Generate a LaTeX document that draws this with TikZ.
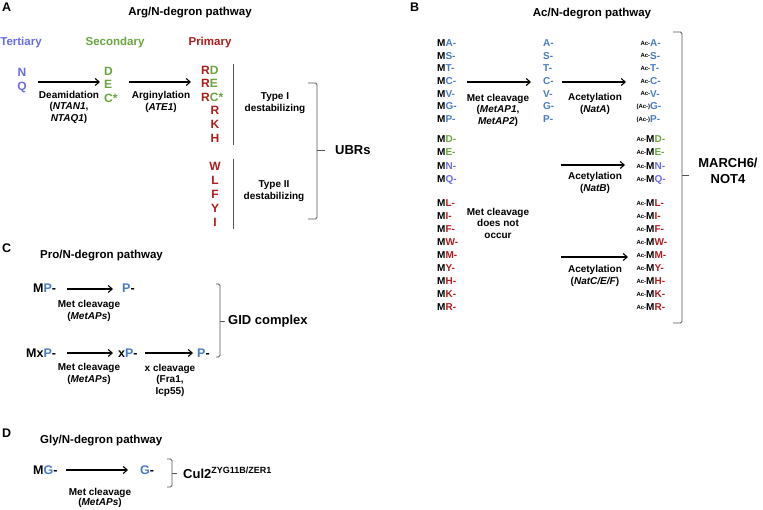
\documentclass[tikz,border=0pt]{standalone}
\usepackage{fontspec}
\setmainfont{Liberation Sans}
\usetikzlibrary{arrows.meta}
\definecolor{tert}{HTML}{6B6BE6}
\definecolor{secc}{HTML}{6AA53E}
\definecolor{prim}{HTML}{B01C1C}
\definecolor{blu}{HTML}{4A7CC4}
\definecolor{brkc}{HTML}{555555}
\newcommand{\acp}{\llap{\raisebox{1.5pt}{\fontsize{6}{6}\selectfont Ac-}}}
\newcommand{\acq}{\llap{\raisebox{1.5pt}{\fontsize{6}{6}\selectfont (Ac-)}}}
\begin{document}
\begin{tikzpicture}[x=1pt,y=-1pt,
  every node/.style={inner sep=0pt},
  lbl/.style={font=\fontsize{10}{11.5}\selectfont\bfseries, align=center},
  ttl/.style={font=\fontsize{11.5}{13}\selectfont\bfseries},
  panel/.style={font=\fontsize{12.5}{13}\selectfont\bfseries, anchor=west},
  big/.style={font=\fontsize{12}{12}\selectfont\bfseries, text height=8.6pt, text depth=0pt},
  resB/.style={font=\fontsize{10}{10}\selectfont\bfseries, text height=7.2pt, text depth=0pt, anchor=west},
  resC/.style={font=\fontsize{12.5}{12.5}\selectfont\bfseries, text height=9pt, text depth=0pt, anchor=west},
  tgt/.style={font=\fontsize{13}{16}\selectfont\bfseries, align=center},
  arr/.style={-{Straight Barb[length=4pt,width=7pt]}, line width=1.1pt},
  brk/.style={draw=brkc, line width=0.8pt, rounded corners=1.5pt},
  vline/.style={draw=brkc, line width=0.9pt}]
\useasboundingbox (0,0) rectangle (763,510);
\fill[white] (0,0) rectangle (763,510);

% ---------------- Panel A ----------------
\node[panel] (labA) at (2,7) {A};
\node[ttl] (ttlA) at (190,13) {Arg/N-degron pathway};
\node[ttl,text=tert] (tertL) at (21,43) {Tertiary};
\node[ttl,text=secc] (secL) at (115,43) {Secondary};
\node[ttl,text=prim] (primL) at (210,43) {Primary};
\node[big,text=tert] (aN) at (22,72) {N};
\node[big,text=tert] (aQ) at (22,86) {Q};
\node[big,text=secc,anchor=west] (aD) at (104,71) {D};
\node[big,text=secc,anchor=west] (aE) at (104,84) {E};
\node[big,text=secc,anchor=west] (aC) at (104,98) {C*};
\node[big,anchor=west] (p1) at (201,70) {\textcolor{prim}{R}\textcolor{secc}{D}};
\node[big,anchor=west] (p2) at (201,83) {\textcolor{prim}{R}\textcolor{secc}{E}};
\node[big,anchor=west] (p3) at (201,97) {\textcolor{prim}{R}\textcolor{secc}{C*}};
\node[big,text=prim] (p4) at (215,110) {R};
\node[big,text=prim] (p5) at (215,124) {K};
\node[big,text=prim] (p6) at (215,138) {H};
\node[big,text=prim] (p7) at (215,166) {W};
\node[big,text=prim] (p8) at (215,180) {L};
\node[big,text=prim] (p9) at (215,194) {F};
\node[big,text=prim] (p10) at (215,208) {Y};
\node[big,text=prim] (p11) at (215,222) {I};
\draw[vline] (233,64) -- (233,145);
\draw[vline] (233,159) -- (233,229);
\node[lbl] (type1) at (275,103) {Type I\\destabilizing};
\node[lbl] (type2) at (274,191) {Type II\\destabilizing};
\coordinate (a1s) at (38,82); \coordinate (a1e) at (100,82);
\draw[arr] (a1s) -- (a1e);
\node[lbl] (a1l) at (69,107) {Deamidation\\(\textit{NTAN1},\\\textit{NTAQ1})};
\coordinate (a2s) at (129,82); \coordinate (a2e) at (191,82);
\draw[arr] (a2s) -- (a2e);
\node[lbl] (a2l) at (161,102) {Arginylation\\(\textit{ATE1})};
\draw[brk] (308,83) -- (317,83) -- (317,219) -- (308,219);
\draw[brk] (317,150) -- (325,150);
\node[tgt,anchor=west] (ubr) at (335,150) {UBRs};

% ---------------- Panel B ----------------
\node[panel] (labB) at (410,7) {B};
\node[ttl] (ttlB) at (592,14) {Ac/N-degron pathway};
% left column
\node[resB] (l1) at (437,43) {M\textcolor{blu}{A-}};
\node[resB] (l2) at (437,55.7) {M\textcolor{blu}{S-}};
\node[resB] (l3) at (437,68.3) {M\textcolor{blu}{T-}};
\node[resB] (l4) at (437,81) {M\textcolor{blu}{C-}};
\node[resB] (l5) at (437,93.7) {M\textcolor{blu}{V-}};
\node[resB] (l6) at (437,106.3) {M\textcolor{blu}{G-}};
\node[resB] (l7) at (437,119) {M\textcolor{blu}{P-}};
\node[resB] (l8) at (437,139) {M\textcolor{secc}{D-}};
\node[resB] (l9) at (437,152) {M\textcolor{secc}{E-}};
\node[resB] (l10) at (437,166) {M\textcolor{tert}{N-}};
\node[resB] (l11) at (437,179) {M\textcolor{tert}{Q-}};
\node[resB] (l12) at (437,203) {M\textcolor{prim}{L-}};
\node[resB] (l13) at (437,216) {M\textcolor{prim}{I-}};
\node[resB] (l14) at (437,229) {M\textcolor{prim}{F-}};
\node[resB] (l15) at (437,242) {M\textcolor{prim}{W-}};
\node[resB] (l16) at (437,255) {M\textcolor{prim}{M-}};
\node[resB] (l17) at (437,268) {M\textcolor{prim}{Y-}};
\node[resB] (l18) at (437,281) {M\textcolor{prim}{H-}};
\node[resB] (l19) at (437,294) {M\textcolor{prim}{K-}};
\node[resB] (l20) at (437,307) {M\textcolor{prim}{R-}};
% middle column
\node[resB,text=blu] (m1) at (543,43) {A-};
\node[resB,text=blu] (m2) at (543,55.7) {S-};
\node[resB,text=blu] (m3) at (543,68.3) {T-};
\node[resB,text=blu] (m4) at (543,81) {C-};
\node[resB,text=blu] (m5) at (543,93.7) {V-};
\node[resB,text=blu] (m6) at (543,106.3) {G-};
\node[resB,text=blu] (m7) at (543,119) {P-};
% right column
\node[resB] (r1) at (650,43) {\acp\textcolor{blu}{A-}};
\node[resB] (r2) at (650,55.7) {\acp\textcolor{blu}{S-}};
\node[resB] (r3) at (650,68.3) {\acp\textcolor{blu}{T-}};
\node[resB] (r4) at (650,81) {\acp\textcolor{blu}{C-}};
\node[resB] (r5) at (650,93.7) {\acp\textcolor{blu}{V-}};
\node[resB] (r6) at (650,106.3) {\acq\textcolor{blu}{G-}};
\node[resB] (r7) at (650,119) {\acq\textcolor{blu}{P-}};
\node[resB] (r8) at (646,139) {\acp M\textcolor{secc}{D-}};
\node[resB] (r9) at (646,152) {\acp M\textcolor{secc}{E-}};
\node[resB] (r10) at (646,166) {\acp M\textcolor{tert}{N-}};
\node[resB] (r11) at (646,179) {\acp M\textcolor{tert}{Q-}};
\node[resB] (r12) at (646,203) {\acp M\textcolor{prim}{L-}};
\node[resB] (r13) at (646,216) {\acp M\textcolor{prim}{I-}};
\node[resB] (r14) at (646,229) {\acp M\textcolor{prim}{F-}};
\node[resB] (r15) at (646,242) {\acp M\textcolor{prim}{W-}};
\node[resB] (r16) at (646,255) {\acp M\textcolor{prim}{M-}};
\node[resB] (r17) at (646,268) {\acp M\textcolor{prim}{Y-}};
\node[resB] (r18) at (646,281) {\acp M\textcolor{prim}{H-}};
\node[resB] (r19) at (646,294) {\acp M\textcolor{prim}{K-}};
\node[resB] (r20) at (646,307) {\acp M\textcolor{prim}{R-}};
% arrows
\coordinate (b1s) at (467,82); \coordinate (b1e) at (531,82);
\draw[arr] (b1s) -- (b1e);
\node[lbl] (b1l) at (498,110) {Met cleavage\\(\textit{MetAP1},\\\textit{MetAP2})};
\coordinate (b2s) at (562,82); \coordinate (b2e) at (626,82);
\draw[arr] (b2s) -- (b2e);
\node[lbl] (b2l) at (595,104) {Acetylation\\(\textit{NatA})};
\coordinate (b3s) at (561,165); \coordinate (b3e) at (625,165);
\draw[arr] (b3s) -- (b3e);
\node[lbl] (b3l) at (595,183) {Acetylation\\(\textit{NatB})};
\coordinate (b4s) at (561,257); \coordinate (b4e) at (628,257);
\draw[arr] (b4s) -- (b4e);
\node[lbl] (b4l) at (595,276) {Acetylation\\(\textit{NatC/E/F})};
\node[lbl] (nocl) at (498,223) {Met cleavage\\does not\\occur};
\draw[brk] (673,32) -- (682,32) -- (682,323) -- (673,323);
\draw[brk] (682,175) -- (689,175);
\node[tgt] (march) at (728,171) {MARCH6/\\NOT4};

% ---------------- Panel C ----------------
\node[panel] (labC) at (2,248) {C};
\node[ttl,anchor=west] (ttlC) at (40,256) {Pro/N-degron pathway};
\node[resC] (c1) at (33,288) {M\textcolor{blu}{P}-};
\coordinate (c1s) at (67,289); \coordinate (c1e) at (113,289);
\draw[arr] (c1s) -- (c1e);
\node[resC] (c2) at (122,288) {\textcolor{blu}{P}-};
\node[lbl] (c1l) at (89,311) {Met cleavage\\(\textit{MetAPs})};
\node[resC] (c3) at (26,353) {Mx\textcolor{blu}{P}-};
\coordinate (c2s) at (67,353); \coordinate (c2e) at (113,353);
\draw[arr] (c2s) -- (c2e);
\node[resC] (c4) at (118,353) {x\textcolor{blu}{P}-};
\coordinate (c3s) at (145,353); \coordinate (c3e) at (193,353);
\draw[arr] (c3s) -- (c3e);
\node[resC] (c5) at (197,353) {\textcolor{blu}{P}-};
\node[lbl] (c2l) at (89,374) {Met cleavage\\(\textit{MetAPs})};
\node[lbl] (c3l) at (170,380) {x cleavage\\(Fra1,\\Icp55)};
\draw[brk] (216,284) -- (220,284) -- (220,357) -- (216,357);
\draw[brk] (220,321) -- (225,321);
\node[tgt,anchor=west] (gid) at (228,321) {GID complex};

% ---------------- Panel D ----------------
\node[panel] (labD) at (2,433) {D};
\node[ttl,anchor=west] (ttlD) at (40,441) {Gly/N-degron pathway};
\node[resC] (d1) at (33,470) {M\textcolor{blu}{G}-};
\coordinate (d1s) at (66,470); \coordinate (d1e) at (128,470);
\draw[arr] (d1s) -- (d1e);
\node[resC] (d2) at (140,470) {\textcolor{blu}{G}-};
\node[lbl,font=\fontsize{10}{10.5}\selectfont\bfseries] (d1l) at (100,498) {Met cleavage\\(\textit{MetAPs})};
\draw[brk] (167,459) -- (172,459) -- (172,487) -- (167,487);
\draw[brk] (172,473) -- (177,473);
\node[tgt,anchor=west] (cul) at (183,473) {Cul2\raisebox{4.5pt}{\fontsize{9}{9}\selectfont ZYG11B/ZER1}};
\end{tikzpicture}
\end{document}
